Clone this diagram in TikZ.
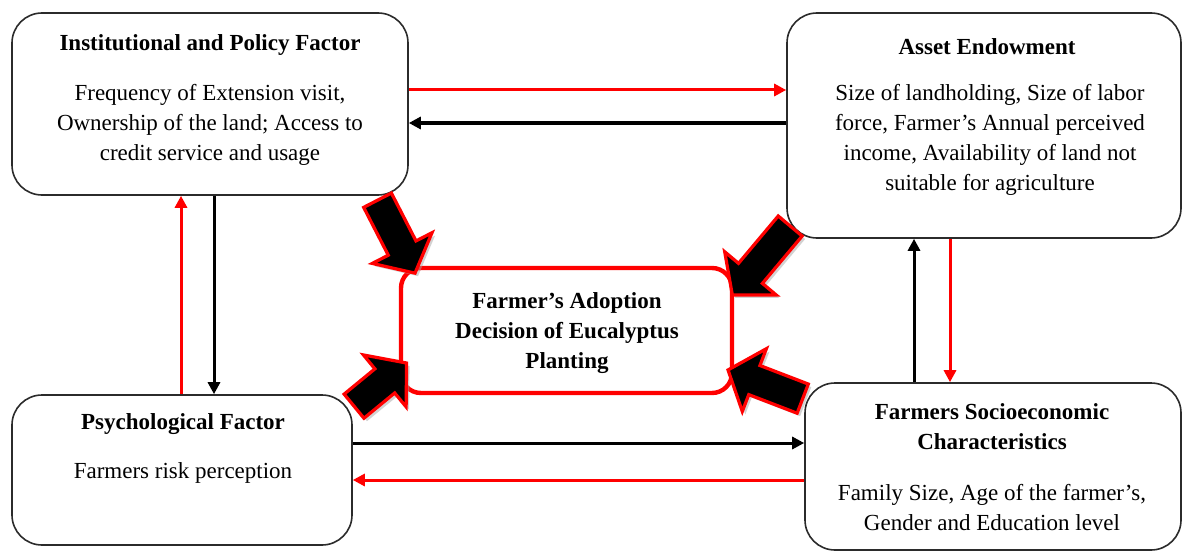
\documentclass[tikz,border=0pt]{standalone}
\usepackage{fontspec}
\setmainfont{Liberation Serif}
\usetikzlibrary{calc,arrows.meta,shapes.arrows,shadows}
\definecolor{ared}{HTML}{FF0000}
\definecolor{frame}{HTML}{2B2B2B}
\tikzset{
  factor/.style={draw=frame, line width=0.8pt, rounded corners=15pt, fill=white},
  target/.style={draw=ared, line width=2.2pt, rounded corners=10pt, fill=white},
  head/.style={font=\fontsize{11.5}{15}\selectfont\bfseries, align=center},
  body/.style={font=\fontsize{11.5}{15}\selectfont, align=center},
  blk/.style={draw=black, line width=1.5pt, -{Triangle[length=6pt,width=6pt]}},
  rd/.style={draw=ared, line width=1.5pt, -{Triangle[length=6pt,width=6pt]}},
  push/.style={single arrow, fill=black, draw=ared, line width=1.6pt,
    inner sep=7pt, single arrow head extend=9pt, single arrow tip angle=100,
    anchor=tail, drop shadow={fill=black!35, shadow xshift=1.5pt, shadow yshift=-1.5pt}},
}

\begin{document}
\begin{tikzpicture}[x=0.5pt, y=-0.5pt]
  \useasboundingbox (0,0) rectangle (1182,551);

  % factor boxes
  \node[factor, minimum width=198pt, minimum height=91pt] (inst) at (210,104) {};
  \node[factor, minimum width=197pt, minimum height=112.5pt] (asset) at (984,125.5) {};
  \node[factor, minimum width=170pt, minimum height=75pt] (psych) at (182,470) {};
  \node[factor, minimum width=188pt, minimum height=83.5pt] (socio) at (993,466.5) {};
  \node[target, minimum width=165.5pt, minimum height=62.5pt] (adopt) at (566.5,330.5) {};

  % texts
  \node[head] (instT) at (210,45) {Institutional and Policy Factor};
  \node[body] (instB) at (210,125) {Frequency of Extension visit,\\Ownership of the land; Access to\\credit service and usage};
  \node[head] (assetT) at (987,47) {Asset Endowment};
  \node[body] (assetB) at (990,140) {Size of landholding, Size of labor\\force, Farmer's Annual perceived\\income, Availability of land not\\suitable for agriculture};
  \node[head] (adoptT) at (567,333) {Farmer's Adoption\\Decision of Eucalyptus\\Planting};
  \node[head] (psychT) at (183,424) {Psychological Factor};
  \node[body] (psychB) at (183,473) {Farmers risk perception};
  \node[head] (socioT) at (992,427) {Farmers Socioeconomic\\Characteristics};
  \node[body] (socioB) at (992,508) {Family Size, Age of the farmer's,\\Gender and Education level};

  % links between factors
  \draw[rd] ([yshift=7pt]inst.east) -- ([yshift=7pt]inst.east -| asset.west);
  \draw[blk] ([yshift=-9.5pt]inst.east -| asset.west) -- ([yshift=-9.5pt]inst.east);
  \draw[blk] ([xshift=2pt]inst.south) -- ([xshift=2pt]inst.south |- psych.north);
  \draw[rd] ([xshift=-14.5pt]inst.south |- psych.north) -- ([xshift=-14.5pt]inst.south);
  \draw[blk] ([xshift=-35pt]asset.south |- socio.north) -- ([xshift=-35pt]asset.south);
  \draw[rd] ([xshift=-17pt]asset.south) -- ([xshift=-17pt]asset.south |- socio.north);
  \draw[blk] ([yshift=13.5pt]psych.east) -- ([yshift=13.5pt]psych.east -| socio.west);
  \draw[rd] ([yshift=-5pt]psych.east -| socio.west) -- ([yshift=-5pt]psych.east);

  % block arrows into the decision
  \node[push, minimum height=41pt, rotate=-62.8] (p1) at ([xshift=-16pt,yshift=-1.5pt]inst.south east) {};
  \node[push, minimum height=45pt, rotate=-130] (p2) at ([xshift=2.5pt,yshift=7pt]asset.south west) {};
  \node[push, minimum height=34pt, rotate=39.4] (p3) at ([yshift=-6.5pt]psych.north east) {};
  \node[push, minimum height=40pt, rotate=159] (p4) at ([yshift=-8.5pt]socio.north west) {};
\end{tikzpicture}
\end{document}
